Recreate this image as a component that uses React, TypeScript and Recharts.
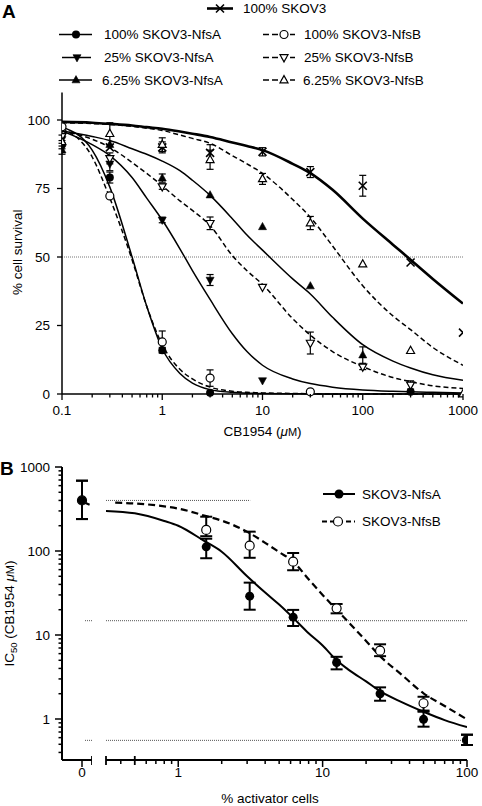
import { ComposedChart, ErrorBar, Label, Line, ReferenceLine, Scatter, XAxis, YAxis } from 'recharts'

const FONT = '"Liberation Sans", Arial, Helvetica, sans-serif'
const FS = 13.5
const INK = '#000'

// ---------- panel A: survival vs CB1954 dose ----------
const doseMajor = [0.1, 1, 10, 100, 1000]
const doseMinor = [0.1, 1, 10, 100].flatMap((d) => [2, 3, 4, 5, 6, 7, 8, 9].map((m) => Number((m * d).toPrecision(2))))
const survivalTicks = [0, 25, 50, 75, 100]

// fitted curves
const fitDoses = [0.1, 0.2, 0.3, 0.5, 0.7, 1, 1.5, 2, 3, 5, 7, 10, 20, 30, 50, 100, 200, 300, 500, 1000]
const fitSkov3 = [99.3, 99, 98.6, 98, 97.4, 96.8, 95.8, 95, 93.8, 91.8, 90.5, 89, 84, 80.6, 74.5, 64, 54.5, 49, 42, 33]
const fitNfsA100 = [97.5, 89, 75.5, 50, 32, 16.5, 7.5, 4, 1.6, 0.6, 0.3, 0.2, 0.1, 0, 0, 0, 0, 0, 0, 0]
const fitNfsA25 = [96, 91, 87, 79, 71.5, 63.5, 53, 45, 34.5, 22, 15.5, 10.5, 5.5, 3.8, 2.5, 1.5, 1, 0.8, 0.6, 0.4]
const fitNfsA6 = [96, 94, 92.5, 89.5, 87.5, 85, 81.5, 78, 72.5, 64, 58, 52.5, 42, 36.5, 28, 18, 12, 9.5, 7, 5]
const fitNfsB100 = [97, 86.5, 71.5, 49, 32, 18, 9, 5.5, 2.5, 1, 0.6, 0.4, 0.2, 0.1, 0, 0, 0, 0, 0, 0]
const fitNfsB25 = [96, 93, 90, 84.5, 80.5, 76, 70.5, 67, 61.5, 50.5, 45, 40, 27.5, 21.5, 15.5, 10, 6, 4.5, 3, 2]
const fitNfsB6 = [99, 98.7, 98.4, 97.7, 97, 96.2, 94.5, 93.3, 91.5, 87, 84, 80.5, 71, 64.5, 54, 39.5, 28.5, 23.5, 17, 10.5]

// measured points (null = not plotted), errors are +/- SEM
const pointDoses = [0.1, 0.3, 1, 3, 10, 30, 100, 300, 1000]
const skov3Pts = [null, 90, 90, 88, 88.4, 81, 76, 48, 22.4]
const skov3Err = [0, 0, 2, 3, 1.5, 2, 3.8, 0, 0]
const nfsA100Pts = [91, 79, 16, 0.5, null, null, null, 0.8, null]
const nfsA100Err = [1.5, 2, 1, 0, 0, 0, 0, 0, 0]
const nfsA25Pts = [93, 84, 63.5, 41.6, 4.9, null, null, null, null]
const nfsA25Err = [1.5, 2.5, 1, 2, 0, 0, 0, 0, 0]
const nfsA6Pts = [89, 91, 78.8, 72.6, 61, 39.4, 14.2, null, null]
const nfsA6Err = [1.5, 0, 1.5, 0, 0, 0, 3, 0, 0]
const nfsB100Pts = [97.5, 72.3, 19, 5.8, null, 0.8, null, null, null]
const nfsB100Err = [0, 0, 4, 3, 0, 0, 0, 0, 0]
const nfsB25Pts = [94, 86, 75.7, 62.3, 39, 18.6, 9.9, 3.3, null]
const nfsB25Err = [0, 2, 1, 2.3, 0, 4, 1, 1.5, 0]
const nfsB6Pts = [92, 95, 91, 85.5, 78.5, 62.4, 47.4, 15.8, 0]
const nfsB6Err = [0, 4, 2.5, 3.5, 2, 2.4, 0, 0, 0]

// ---------- panel B: IC50 vs % activator cells ----------
const activatorPct = [0, 1.5625, 3.125, 6.25, 12.5, 25, 50, 100]
const nfsAIC50 = [400, 112, 29, 16.3, 4.7, 2.0, 0.99, 0.56]
const nfsALow = [240, 82, 20, 12.8, 3.9, 1.65, 0.81, 0.49]
const nfsAHigh = [687, 140, 42, 19.9, 5.5, 2.38, 1.22, 0.65]
const nfsBIC50 = [400, 178, 115.6, 74.7, 20.8, 6.5, 1.54, 0.56]
const nfsBLow = [240, 150, 83, 59, 18.1, 5.6, 1.26, 0.49]
const nfsBHigh = [687, 256, 170, 94.6, 23.4, 7.75, 1.84, 0.65]

const fitAPct = [0.316, 0.5, 0.8, 1, 1.5, 2, 3, 4, 5, 6.25, 8, 10, 12.5, 15, 20, 25, 35, 50, 70, 100]
const fitA = [300, 281, 228, 200, 133, 98, 50, 32, 23, 16, 10.5, 7.5, 5, 3.9, 2.8, 2.15, 1.6, 1.22, 0.97, 0.8]
const fitBPct = [0.366, 0.5, 0.8, 1, 1.5625, 2, 3.125, 4, 5, 6.25, 8, 10, 12.5, 15, 20, 25, 35, 50, 70, 100]
const fitB = [376, 368, 340, 320, 260, 230, 163, 125, 97, 75, 46, 30, 20, 14.4, 8.5, 5.6, 3.4, 2.02, 1.43, 0.99]
const zeroFitPos = [0.15, 0.5]
const zeroFitB = [375, 345]

const refLevelsB = [400, 14.8, 0.557]
const pctMajor = [1, 10, 100]
const pctMinor = [0.1, 1, 10].flatMap((d) => [2, 3, 4, 5, 6, 7, 8, 9].map((m) => Number((m * d).toPrecision(2)))).filter((v) => v > 0.33)
const ic50Major = [1, 10, 100, 1000]
const ic50Minor = [0.1, 1, 10, 100].flatMap((d) => [2, 3, 4, 5, 6, 7, 8, 9].map((m) => Number((m * d).toPrecision(2)))).filter((v) => v > 0.33)
const PCT_START = 0.316
const ZERO_END = 0.5

type MarkKind = 'dot' | 'ring' | 'up' | 'upOpen' | 'down' | 'downOpen' | 'cross'

const drawMark = (kind: MarkKind, cx: number, cy: number, s = 4) => {
  if (kind === 'dot') return <circle cx={cx} cy={cy} r={s} fill={INK} />
  if (kind === 'ring') return <circle cx={cx} cy={cy} r={s} fill="#fff" stroke={INK} strokeWidth={1.2} />
  if (kind === 'cross')
    return (
      <path
        d={`M${cx - s},${cy - s}L${cx + s},${cy + s}M${cx - s},${cy + s}L${cx + s},${cy - s}`}
        stroke={INK}
        strokeWidth={1.6}
      />
    )
  const up = kind === 'up' || kind === 'upOpen'
  const open = kind === 'upOpen' || kind === 'downOpen'
  const t = up ? -1 : 1
  const d = `M${cx},${cy + t * s * 1.1}L${cx + s},${cy - t * s * 0.7}L${cx - s},${cy - t * s * 0.7}Z`
  return <path d={d} fill={open ? '#fff' : INK} stroke={INK} strokeWidth={open ? 1.2 : 0.6} />
}

type SeriesA = { name: string; fit: number[]; pts: (number | null)[]; err: number[]; mark: MarkKind; dash?: string; width: number }

const seriesA: SeriesA[] = [
  { name: '100% SKOV3', fit: fitSkov3, pts: skov3Pts, err: skov3Err, mark: 'cross', width: 2.6 },
  { name: '100% SKOV3-NfsA', fit: fitNfsA100, pts: nfsA100Pts, err: nfsA100Err, mark: 'dot', width: 1.5 },
  { name: '25% SKOV3-NfsA', fit: fitNfsA25, pts: nfsA25Pts, err: nfsA25Err, mark: 'down', width: 1.5 },
  { name: '6.25% SKOV3-NfsA', fit: fitNfsA6, pts: nfsA6Pts, err: nfsA6Err, mark: 'up', width: 1.5 },
  { name: '100% SKOV3-NfsB', fit: fitNfsB100, pts: nfsB100Pts, err: nfsB100Err, mark: 'ring', dash: '5 3', width: 1.5 },
  { name: '25% SKOV3-NfsB', fit: fitNfsB25, pts: nfsB25Pts, err: nfsB25Err, mark: 'downOpen', dash: '5 3', width: 1.5 },
  { name: '6.25% SKOV3-NfsB', fit: fitNfsB6, pts: nfsB6Pts, err: nfsB6Err, mark: 'upOpen', dash: '5 3', width: 1.5 },
]

const fitRows = (xs: number[], ys: number[]) => xs.map((x, i) => ({ x, y: ys[i] }))
const pointRows = (pts: (number | null)[], err: number[]) =>
  pointDoses
    .map((x, i) => ({ x, y: pts[i], err: err[i] > 0 ? err[i] : undefined }))
    .filter((r) => r.y !== null)

const icRows = (vals: number[], lo: number[], hi: number[]) =>
  activatorPct.map((x, i) => ({ x, y: vals[i], err: [vals[i] - lo[i], hi[i] - vals[i]] }))

// ---------- ticks and titles ----------
const DoseTick = ({ x, y, payload }: any) => {
  const major = doseMajor.includes(payload.value)
  return (
    <g>
      <line x1={x} x2={x} y1={y} y2={y + (major ? 6 : 3.5)} stroke={INK} strokeWidth={1.3} />
      {major && (
        <text x={x} y={y + 21} textAnchor="middle" fontSize={FS} fontFamily={FONT} fill={INK}>
          {payload.value}
        </text>
      )}
    </g>
  )
}

const SurvivalTick = ({ x, y, payload }: any) => (
  <g>
    <line x1={x - 5} x2={x} y1={y} y2={y} stroke={INK} strokeWidth={1.3} />
    <text x={x - 12} y={y} dy="0.35em" textAnchor="end" fontSize={FS} fontFamily={FONT} fill={INK}>
      {payload.value}
    </text>
  </g>
)

const PctTick = ({ x, y, payload }: any) => {
  const v = payload.value
  if (v === PCT_START || v === ZERO_END)
    return <line x1={x} x2={x} y1={y - 4} y2={y + 5} stroke={INK} strokeWidth={1.8} />
  const major = v === 0 || pctMajor.includes(v)
  return (
    <g>
      <line x1={x} x2={x} y1={y} y2={y + (major ? 7 : 4)} stroke={INK} strokeWidth={1.5} />
      {major && (
        <text x={x} y={y + 17} textAnchor="middle" fontSize={FS} fontFamily={FONT} fill={INK}>
          {v}
        </text>
      )}
    </g>
  )
}

const IC50Tick = ({ x, y, payload }: any) => {
  const major = ic50Major.includes(payload.value)
  return (
    <g>
      <line x1={x - (major ? 7 : 3.5)} x2={x} y1={y} y2={y} stroke={INK} strokeWidth={1.5} />
      {major && (
        <text x={x - 12} y={y} dy="0.35em" textAnchor="end" fontSize={FS} fontFamily={FONT} fill={INK}>
          {payload.value}
        </text>
      )}
    </g>
  )
}

const DoseTitle = ({ viewBox }: any) => (
  <text x={viewBox.x + viewBox.width / 2} y={viewBox.y + 42} textAnchor="middle" fontSize={FS} fontFamily={FONT} fill={INK}>
    CB1954 (<tspan fontStyle="italic">μ</tspan>
    <tspan fontSize={11}>M</tspan>)
  </text>
)

const SurvivalTitle = ({ viewBox }: any) => {
  const cx = 17
  const cy = viewBox.y + viewBox.height / 2 + 9
  return (
    <text x={cx} y={cy} dy="0.35em" transform={`rotate(-90 ${cx} ${cy})`} textAnchor="middle" fontSize={FS} fontFamily={FONT} fill={INK}>
      % cell survival
    </text>
  )
}

const IC50Title = ({ viewBox }: any) => {
  const cx = 9
  const cy = viewBox.y + viewBox.height / 2
  return (
    <text x={cx} y={cy} dy="0.35em" transform={`rotate(-90 ${cx} ${cy})`} textAnchor="middle" fontSize={FS} fontFamily={FONT} fill={INK}>
      IC<tspan fontSize={9.5} dy={3}>50</tspan>
      <tspan dy={-3}> (CB1954 </tspan>
      <tspan fontStyle="italic">μ</tspan>
      <tspan fontSize={11}>M</tspan>)
    </text>
  )
}

const PctTitle = () => (
  <text x={270 - 92} y={803 - 440} textAnchor="middle" fontSize={FS} fontFamily={FONT} fill={INK}>
    % activator cells
  </text>
)

// ---------- legends ----------
const legendSlots: Record<string, { x1: number; x2: number; mx: number; tx: number; y: number }> = {
  '100% SKOV3': { x1: 207, x2: 233, mx: 220, tx: 243, y: 8.5 },
  '100% SKOV3-NfsA': { x1: 59, x2: 92, mx: 76, tx: 104, y: 34.5 },
  '25% SKOV3-NfsA': { x1: 62, x2: 91, mx: 77, tx: 104, y: 57.5 },
  '6.25% SKOV3-NfsA': { x1: 59, x2: 92, mx: 76, tx: 102, y: 80 },
  '100% SKOV3-NfsB': { x1: 263, x2: 295, mx: 284, tx: 304, y: 34.5 },
  '25% SKOV3-NfsB': { x1: 263, x2: 295, mx: 284, tx: 304, y: 57.5 },
  '6.25% SKOV3-NfsB': { x1: 263, x2: 295, mx: 284, tx: 303, y: 80 },
}

const LegendA = () => (
  <svg width={482} height={92} style={{ position: 'absolute', left: 0, top: 0 }} fontFamily={FONT} fontSize={FS}>
    <text x={2} y={18} fontWeight="bold" fontSize={19}>
      A
    </text>
    {seriesA.map((s) => {
      const p = legendSlots[s.name]
      return (
        <g key={s.name}>
          <line x1={p.x1} x2={p.x2} y1={p.y} y2={p.y} stroke={INK} strokeWidth={s.width} strokeDasharray={s.dash ? '6 3' : undefined} />
          {drawMark(s.mark, p.mx, p.y)}
          <text x={p.tx} y={p.y} dy="0.35em" fill={INK}>
            {s.name}
          </text>
        </g>
      )
    })}
  </svg>
)

const LegendB = () => (
  <svg width={482} height={100} style={{ position: 'absolute', left: 0, top: 440 }} fontFamily={FONT} fontSize={FS}>
    <text x={0} y={35} fontWeight="bold" fontSize={19}>
      B
    </text>
    <line x1={323} x2={355} y1={54} y2={54} stroke={INK} strokeWidth={2} />
    {drawMark('dot', 339, 54, 4.5)}
    <text x={362} y={54} dy="0.35em" fill={INK}>
      SKOV3-NfsA
    </text>
    <line x1={322} x2={355} y1={81.5} y2={81.5} stroke={INK} strokeWidth={2} strokeDasharray="5 3" />
    {drawMark('ring', 338, 81.5, 4.5)}
    <text x={362} y={81.5} dy="0.35em" fill={INK}>
      SKOV3-NfsB
    </text>
  </svg>
)

// ---------- charts ----------
const PanelA = () => (
  <ComposedChart width={482} height={440} margin={{ top: 92.6, right: 19, bottom: 6, left: 0 }}>
    <XAxis
      dataKey="x"
      type="number"
      scale="log"
      domain={[0.1, 1000]}
      allowDataOverflow
      ticks={[...doseMajor, ...doseMinor].sort((a, b) => a - b)}
      interval={0}
      tick={DoseTick}
      tickLine={false}
      tickSize={0}
      tickMargin={0}
      axisLine={{ stroke: INK, strokeWidth: 1.5 }}
      height={40}
    >
      <Label content={DoseTitle} />
    </XAxis>
    <YAxis
      dataKey="y"
      type="number"
      domain={[0, 110]}
      ticks={survivalTicks}
      interval={0}
      tick={SurvivalTick}
      tickLine={false}
      tickSize={0}
      tickMargin={0}
      axisLine={{ stroke: INK, strokeWidth: 1.5 }}
      width={62}
    >
      <Label content={SurvivalTitle} />
    </YAxis>
    <ReferenceLine y={50} stroke="#777" strokeDasharray="1 1" />
    {seriesA.map((s) => (
      <Line
        key={`fit-${s.name}`}
        data={fitRows(fitDoses, s.fit)}
        dataKey="y"
        type="monotone"
        dot={false}
        stroke={INK}
        strokeWidth={s.width}
        strokeDasharray={s.dash}
        isAnimationActive={false}
      />
    ))}
    {seriesA.map((s) => (
      <Scatter
        key={`pts-${s.name}`}
        data={pointRows(s.pts, s.err)}
        dataKey="y"
        shape={(p: any) => drawMark(s.mark, p.cx, p.cy)}
        isAnimationActive={false}
      >
        <ErrorBar dataKey="err" direction="y" width={3.5} stroke={INK} strokeWidth={1.2} />
      </Scatter>
    ))}
  </ComposedChart>
)

const logY = { scale: 'log' as const, domain: [0.325, 1000], allowDataOverflow: true, type: 'number' as const, dataKey: 'y' }
const marginB = { top: 27, bottom: 6 }
const rowsA = icRows(nfsAIC50, nfsALow, nfsAHigh)
const rowsB = icRows(nfsBIC50, nfsBLow, nfsBHigh)

const PanelBZero = () => (
  <ComposedChart width={92} height={366} margin={{ ...marginB, left: 0, right: 0 }}>
    <XAxis
      dataKey="x"
      type="number"
      domain={[-1, ZERO_END]}
      allowDataOverflow
      ticks={[0, ZERO_END]}
      interval={0}
      tick={PctTick}
      tickLine={false}
      tickSize={0}
      tickMargin={0}
      axisLine={{ stroke: INK, strokeWidth: 2 }}
      height={40}
    />
    <YAxis
      {...logY}
      ticks={[...ic50Major, ...ic50Minor].sort((a, b) => a - b)}
      interval={0}
      tick={IC50Tick}
      tickLine={false}
      tickSize={0}
      tickMargin={0}
      axisLine={{ stroke: INK, strokeWidth: 2 }}
      width={62}
    >
      <Label content={IC50Title} />
    </YAxis>
    {refLevelsB.slice(1).map((v) => (
      <ReferenceLine key={v} segment={[{ x: 0.15, y: v }, { x: ZERO_END, y: v }]} stroke="#555" strokeDasharray="1 1" />
    ))}
    <Line
      data={fitRows(zeroFitPos, zeroFitB)}
      dataKey="y"
      dot={false}
      stroke={INK}
      strokeWidth={2}
      strokeDasharray="5 3"
      isAnimationActive={false}
    />
    <Scatter data={rowsB.slice(0, 1)} dataKey="y" shape={(p: any) => drawMark('ring', p.cx, p.cy, 4.5)} isAnimationActive={false}>
      <ErrorBar dataKey="err" direction="y" width={6} stroke={INK} strokeWidth={2} />
    </Scatter>
    <Scatter data={rowsA.slice(0, 1)} dataKey="y" shape={(p: any) => drawMark('dot', p.cx, p.cy, 4.5)} isAnimationActive={false}>
      <ErrorBar dataKey="err" direction="y" width={6} stroke={INK} strokeWidth={2} />
    </Scatter>
  </ComposedChart>
)

const PanelBLog = () => (
  <ComposedChart width={390} height={366} margin={{ ...marginB, left: 14, right: 15 }}>
    <XAxis
      dataKey="x"
      type="number"
      scale="log"
      domain={[PCT_START, 100]}
      allowDataOverflow
      ticks={[PCT_START, ...pctMinor, ...pctMajor].sort((a, b) => a - b)}
      interval={0}
      tick={PctTick}
      tickLine={false}
      tickSize={0}
      tickMargin={0}
      axisLine={{ stroke: INK, strokeWidth: 2 }}
      height={40}
    >
      <Label content={PctTitle} />
    </XAxis>
    <YAxis {...logY} hide />
    <ReferenceLine segment={[{ x: PCT_START, y: refLevelsB[0] }, { x: 3.15, y: refLevelsB[0] }]} stroke="#555" strokeDasharray="1 1" />
    {refLevelsB.slice(1).map((v) => (
      <ReferenceLine key={v} y={v} stroke="#555" strokeDasharray="1 1" />
    ))}
    <Line data={fitRows(fitAPct, fitA)} dataKey="y" type="monotone" dot={false} stroke={INK} strokeWidth={2} isAnimationActive={false} />
    <Line
      data={fitRows(fitBPct, fitB)}
      dataKey="y"
      type="monotone"
      dot={false}
      stroke={INK}
      strokeWidth={2.2}
      strokeDasharray="7 4"
      isAnimationActive={false}
    />
    <Scatter data={rowsB.slice(1)} dataKey="y" shape={(p: any) => drawMark('ring', p.cx, p.cy, 4.5)} isAnimationActive={false}>
      <ErrorBar dataKey="err" direction="y" width={6} stroke={INK} strokeWidth={2} />
    </Scatter>
    <Scatter data={rowsA.slice(1)} dataKey="y" shape={(p: any) => drawMark('dot', p.cx, p.cy, 4.5)} isAnimationActive={false}>
      <ErrorBar dataKey="err" direction="y" width={6} stroke={INK} strokeWidth={2} />
    </Scatter>
  </ComposedChart>
)

export default function App() {
  return (
    <div style={{ position: 'absolute', left: 0, top: 0, width: 482, height: 806, background: '#fff', fontFamily: FONT }}>
      <div style={{ position: 'absolute', left: 0, top: 0 }}>
        <PanelA />
      </div>
      <div style={{ position: 'absolute', left: 0, top: 440 }}>
        <PanelBZero />
      </div>
      <div style={{ position: 'absolute', left: 92, top: 440 }}>
        <PanelBLog />
      </div>
      <LegendA />
      <LegendB />
    </div>
  )
}
